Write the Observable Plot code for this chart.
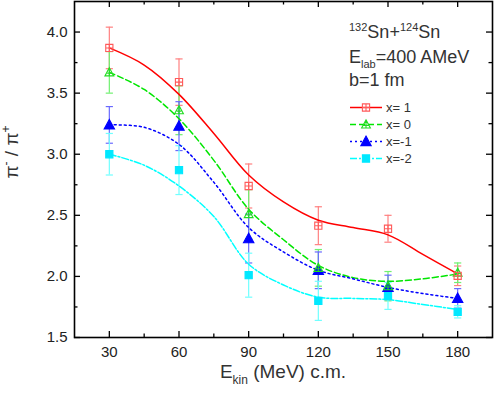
<!DOCTYPE html>
<html><head><meta charset="utf-8">
<script src="https://cdn.jsdelivr.net/npm/d3@7"></script>
<script src="https://cdn.jsdelivr.net/npm/@observablehq/plot@0.6"></script>
<style>body{margin:0;background:#fff} #chart{width:494px;height:395px}</style>
</head><body><div id="chart"></div>
<script>
// ---- data ----
const energies = [30, 60, 90, 120, 150, 180];
const seriesNames = ["x= 1", "x= 0", "x=-1", "x=-2"];
const ratioX1  = [3.87, 3.59, 2.74, 2.415, 2.39, 2.005];
const errX1    = [0.17, 0.19, 0.18, 0.155, 0.11, 0.08];
const ratioX0  = [3.67, 3.36, 2.51, 2.07, 1.92, 2.03];
const errX0    = [0.17, 0.20, 0.20, 0.15, 0.12, 0.08];
const ratioXm1 = [3.24, 3.23, 2.31, 2.05, 1.91, 1.82];
const errXm1   = [0.15, 0.20, 0.20, 0.15, 0.10, 0.08];
const ratioXm2 = [3.00, 2.87, 2.01, 1.80, 1.84, 1.71];
const errXm2   = [0.17, 0.20, 0.18, 0.16, 0.11, 0.05];
// fitted curves
const fitEnergies = [30, 45, 60, 75, 90, 105, 120, 135, 150, 165, 180];
const fitX1  = [3.87, 3.73, 3.49, 3.17, 2.83, 2.61, 2.46, 2.40, 2.34, 2.18, 2.02];
const fitX0  = [3.67, 3.53, 3.29, 2.95, 2.55, 2.30, 2.09, 1.99, 1.96, 1.98, 2.02];
const fitXm1 = [3.24, 3.22, 3.08, 2.77, 2.40, 2.20, 2.05, 1.98, 1.91, 1.86, 1.82];
const fitXm2 = [3.00, 2.91, 2.74, 2.49, 2.10, 1.93, 1.83, 1.82, 1.81, 1.77, 1.73];
// ticks
const xTicks = [30, 60, 90, 120, 150, 180];
const xMinorTicks = [45, 75, 105, 135, 165];
const yTicks = [1.5, 2.0, 2.5, 3.0, 3.5, 4.0];
const yMinorTicks = [1.75, 2.25, 2.75, 3.25, 3.75];
const yTickLabels = ["1.5", "2.0", "2.5", "3.0", "3.5", "4.0"];

// ---- styles ----
const W = 494, H = 395;
const mL = 74, mR = 2, mT = 1, mB = 58;
const fw = W - mL - mR, fh = H - mT - mB;
const colors = ["#ff0000", "#00e600", "#0000ff", "#00ffff"];
const markerColors = ["#ff5a5a", "#22dd22", "#0000ff", "#00e8ff"];
const barColors = ["#ff8080", "#70f070", "#6a6aff", "#70ffff"];
const dashes = [null, "6,3", "2,3", "7,2,2,2"];

const sym = (fn) => ({draw(ctx, size) { fn(ctx, Math.sqrt(size / Math.PI)); }});
const squarePlus = sym((c, h) => { c.rect(-h, -h, 2*h, 2*h); c.moveTo(-h, 0); c.lineTo(h, 0); c.moveTo(0, -h); c.lineTo(0, h); });
const triPath = (c, h) => { c.moveTo(0, -h*1.05); c.lineTo(h, h*0.8); c.lineTo(-h, h*0.8); c.closePath(); };
const trianglePlus = sym((c, h) => { triPath(c, h); c.moveTo(0, -h); c.lineTo(0, h*0.8); c.moveTo(-h*0.5, h*0.2); c.lineTo(h*0.5, h*0.2); });
const triangleFill = sym((c, h) => triPath(c, h));
const squareFill = sym((c, h) => c.rect(-h, -h, 2*h, 2*h));
const cap = sym((c, h) => { c.moveTo(-h, 0); c.lineTo(h, 0); });
const markerSyms = [squarePlus, trianglePlus, triangleFill, squareFill];
const markerR = [3.6, 4.4, 5.2, 3.6];
const markerFill = ["none", "none", markerColors[2], markerColors[3]];

const ratios = [ratioX1, ratioX0, ratioXm1, ratioXm2];
const errs = [errX1, errX0, errXm1, errXm2];
const fits = [fitX1, fitX0, fitXm1, fitXm2];

const pts = ratios.map((r, s) => energies.map((e, i) => ({e, v: r[i], err: errs[s][i]})));
const curves = fits.map(f => fitEnergies.map((e, i) => ({e, v: f[i]})));

const marks = [];
// error bars
[0,1,2,3].forEach(s => {
  marks.push(Plot.ruleX(pts[s], {x: "e", y1: d => d.v - d.err, y2: d => d.v + d.err, stroke: barColors[s], strokeWidth: 1.2}));
  marks.push(Plot.dot(pts[s], {x: "e", y: d => d.v - d.err, symbol: cap, r: 3.6, stroke: barColors[s], strokeWidth: 1.2, fill: "none"}));
  marks.push(Plot.dot(pts[s], {x: "e", y: d => d.v + d.err, symbol: cap, r: 3.6, stroke: barColors[s], strokeWidth: 1.2, fill: "none"}));
});
// curves
[0,1,2,3].forEach(s => {
  marks.push(Plot.line(curves[s], {x: "e", y: "v", curve: "catmull-rom", stroke: colors[s], strokeWidth: 1.5, strokeDasharray: dashes[s]}));
});
// markers
[3,2,1,0].forEach(s => {
  marks.push(Plot.dot(pts[s], {x: "e", y: "v", symbol: markerSyms[s], r: markerR[s], stroke: markerColors[s], fill: markerFill[s], strokeWidth: 1.1}));
});
// ticks (inward)
marks.push(
  Plot.ruleX(xTicks, {x: d => d, insetTop: fh - 6, stroke: "#000", strokeWidth: 1.3}),
  Plot.ruleX(xTicks, {x: d => d, insetBottom: fh - 6, stroke: "#000", strokeWidth: 1.3}),
  Plot.ruleX(xMinorTicks, {x: d => d, insetTop: fh - 3.5, stroke: "#000", strokeWidth: 1.3}),
  Plot.ruleX(xMinorTicks, {x: d => d, insetBottom: fh - 3.5, stroke: "#000", strokeWidth: 1.3}),
  Plot.ruleY(yTicks, {y: d => d, insetRight: fw - 6, stroke: "#000", strokeWidth: 1.3}),
  Plot.ruleY(yTicks, {y: d => d, insetLeft: fw - 6, stroke: "#000", strokeWidth: 1.3}),
  Plot.ruleY(yMinorTicks, {y: d => d, insetRight: fw - 3.5, stroke: "#000", strokeWidth: 1.3}),
  Plot.ruleY(yMinorTicks, {y: d => d, insetLeft: fw - 3.5, stroke: "#000", strokeWidth: 1.3}),
  Plot.axisX(xTicks, {tickSize: 0, tickPadding: 9, fontSize: 15, label: null, tickFormat: d => String(d)}),
  Plot.axisY(yTicks, {tickSize: 0, tickPadding: 7, fontSize: 15, label: null, tickFormat: (d) => yTickLabels[yTicks.indexOf(d)]}),
  Plot.frame({stroke: "#000", strokeWidth: 1.6})
);

const plot = Plot.plot({
  width: W, height: H,
  marginLeft: mL, marginRight: mR, marginTop: mT, marginBottom: mB,
  x: {domain: [15, 195]},
  y: {domain: [1.5, 4.25]},
  style: {fontFamily: "'Liberation Sans', Arial, sans-serif", color: "#222", background: "#fff"},
  marks
});
document.getElementById("chart").appendChild(plot);

// ---- titles, annotation, legend ----
const svg = d3.select(plot);
const font = "'Liberation Sans', Arial, sans-serif";
const g = svg.append("g").attr("font-family", font).attr("fill", "#333").attr("text-anchor", "start");

// y title
const yt = g.append("text").attr("transform", "translate(18,152) rotate(-90)").attr("text-anchor", "middle").attr("font-size", 19);
yt.append("tspan").text("π");
yt.append("tspan").attr("font-size", 12).attr("dy", -8).text("-");
yt.append("tspan").attr("dy", 8).text(" / π");
yt.append("tspan").attr("font-size", 12).attr("dy", -8).text("+");

// x title
const xt = g.append("text").attr("x", 283).attr("y", 378).attr("text-anchor", "middle").attr("font-size", 19);
xt.append("tspan").text("E");
xt.append("tspan").attr("font-size", 12).attr("dy", 6).text("kin");
xt.append("tspan").attr("dy", -6).text(" (MeV) c.m.");

// annotation
const a1 = g.append("text").attr("x", 349).attr("y", 38).attr("font-size", 18);
a1.append("tspan").attr("font-size", 11).attr("dy", -7).text("132");
a1.append("tspan").attr("dy", 7).text("Sn+");
a1.append("tspan").attr("font-size", 11).attr("dy", -7).text("124");
a1.append("tspan").attr("dy", 7).text("Sn");
const a2 = g.append("text").attr("x", 349).attr("y", 63).attr("font-size", 18);
a2.append("tspan").text("E");
a2.append("tspan").attr("font-size", 11).attr("dy", 5).text("lab");
a2.append("tspan").attr("dy", -5).text("=400 AMeV");
g.append("text").attr("x", 349).attr("y", 86).attr("font-size", 18).text("b=1 fm");

// legend
const markerPath = (s) => { const p = d3.path(); const h = markerR[s]; markerSyms[s].draw(p, h*h*Math.PI); return p.toString(); };
seriesNames.forEach((name, s) => {
  const y = 107.5 + 17 * s;
  g.append("line").attr("x1", 350).attr("x2", 382).attr("y1", y).attr("y2", y)
    .attr("stroke", colors[s]).attr("stroke-width", 1.5).attr("stroke-dasharray", dashes[s]);
  g.append("path").attr("transform", `translate(366,${y})`).attr("d", markerPath(s))
    .attr("stroke", markerColors[s]).attr("fill", markerFill[s]).attr("stroke-width", 1.1);
  g.append("text").attr("x", 386).attr("y", y + 4.5).attr("font-size", 13).text(name);
});
</script>
</body></html>
